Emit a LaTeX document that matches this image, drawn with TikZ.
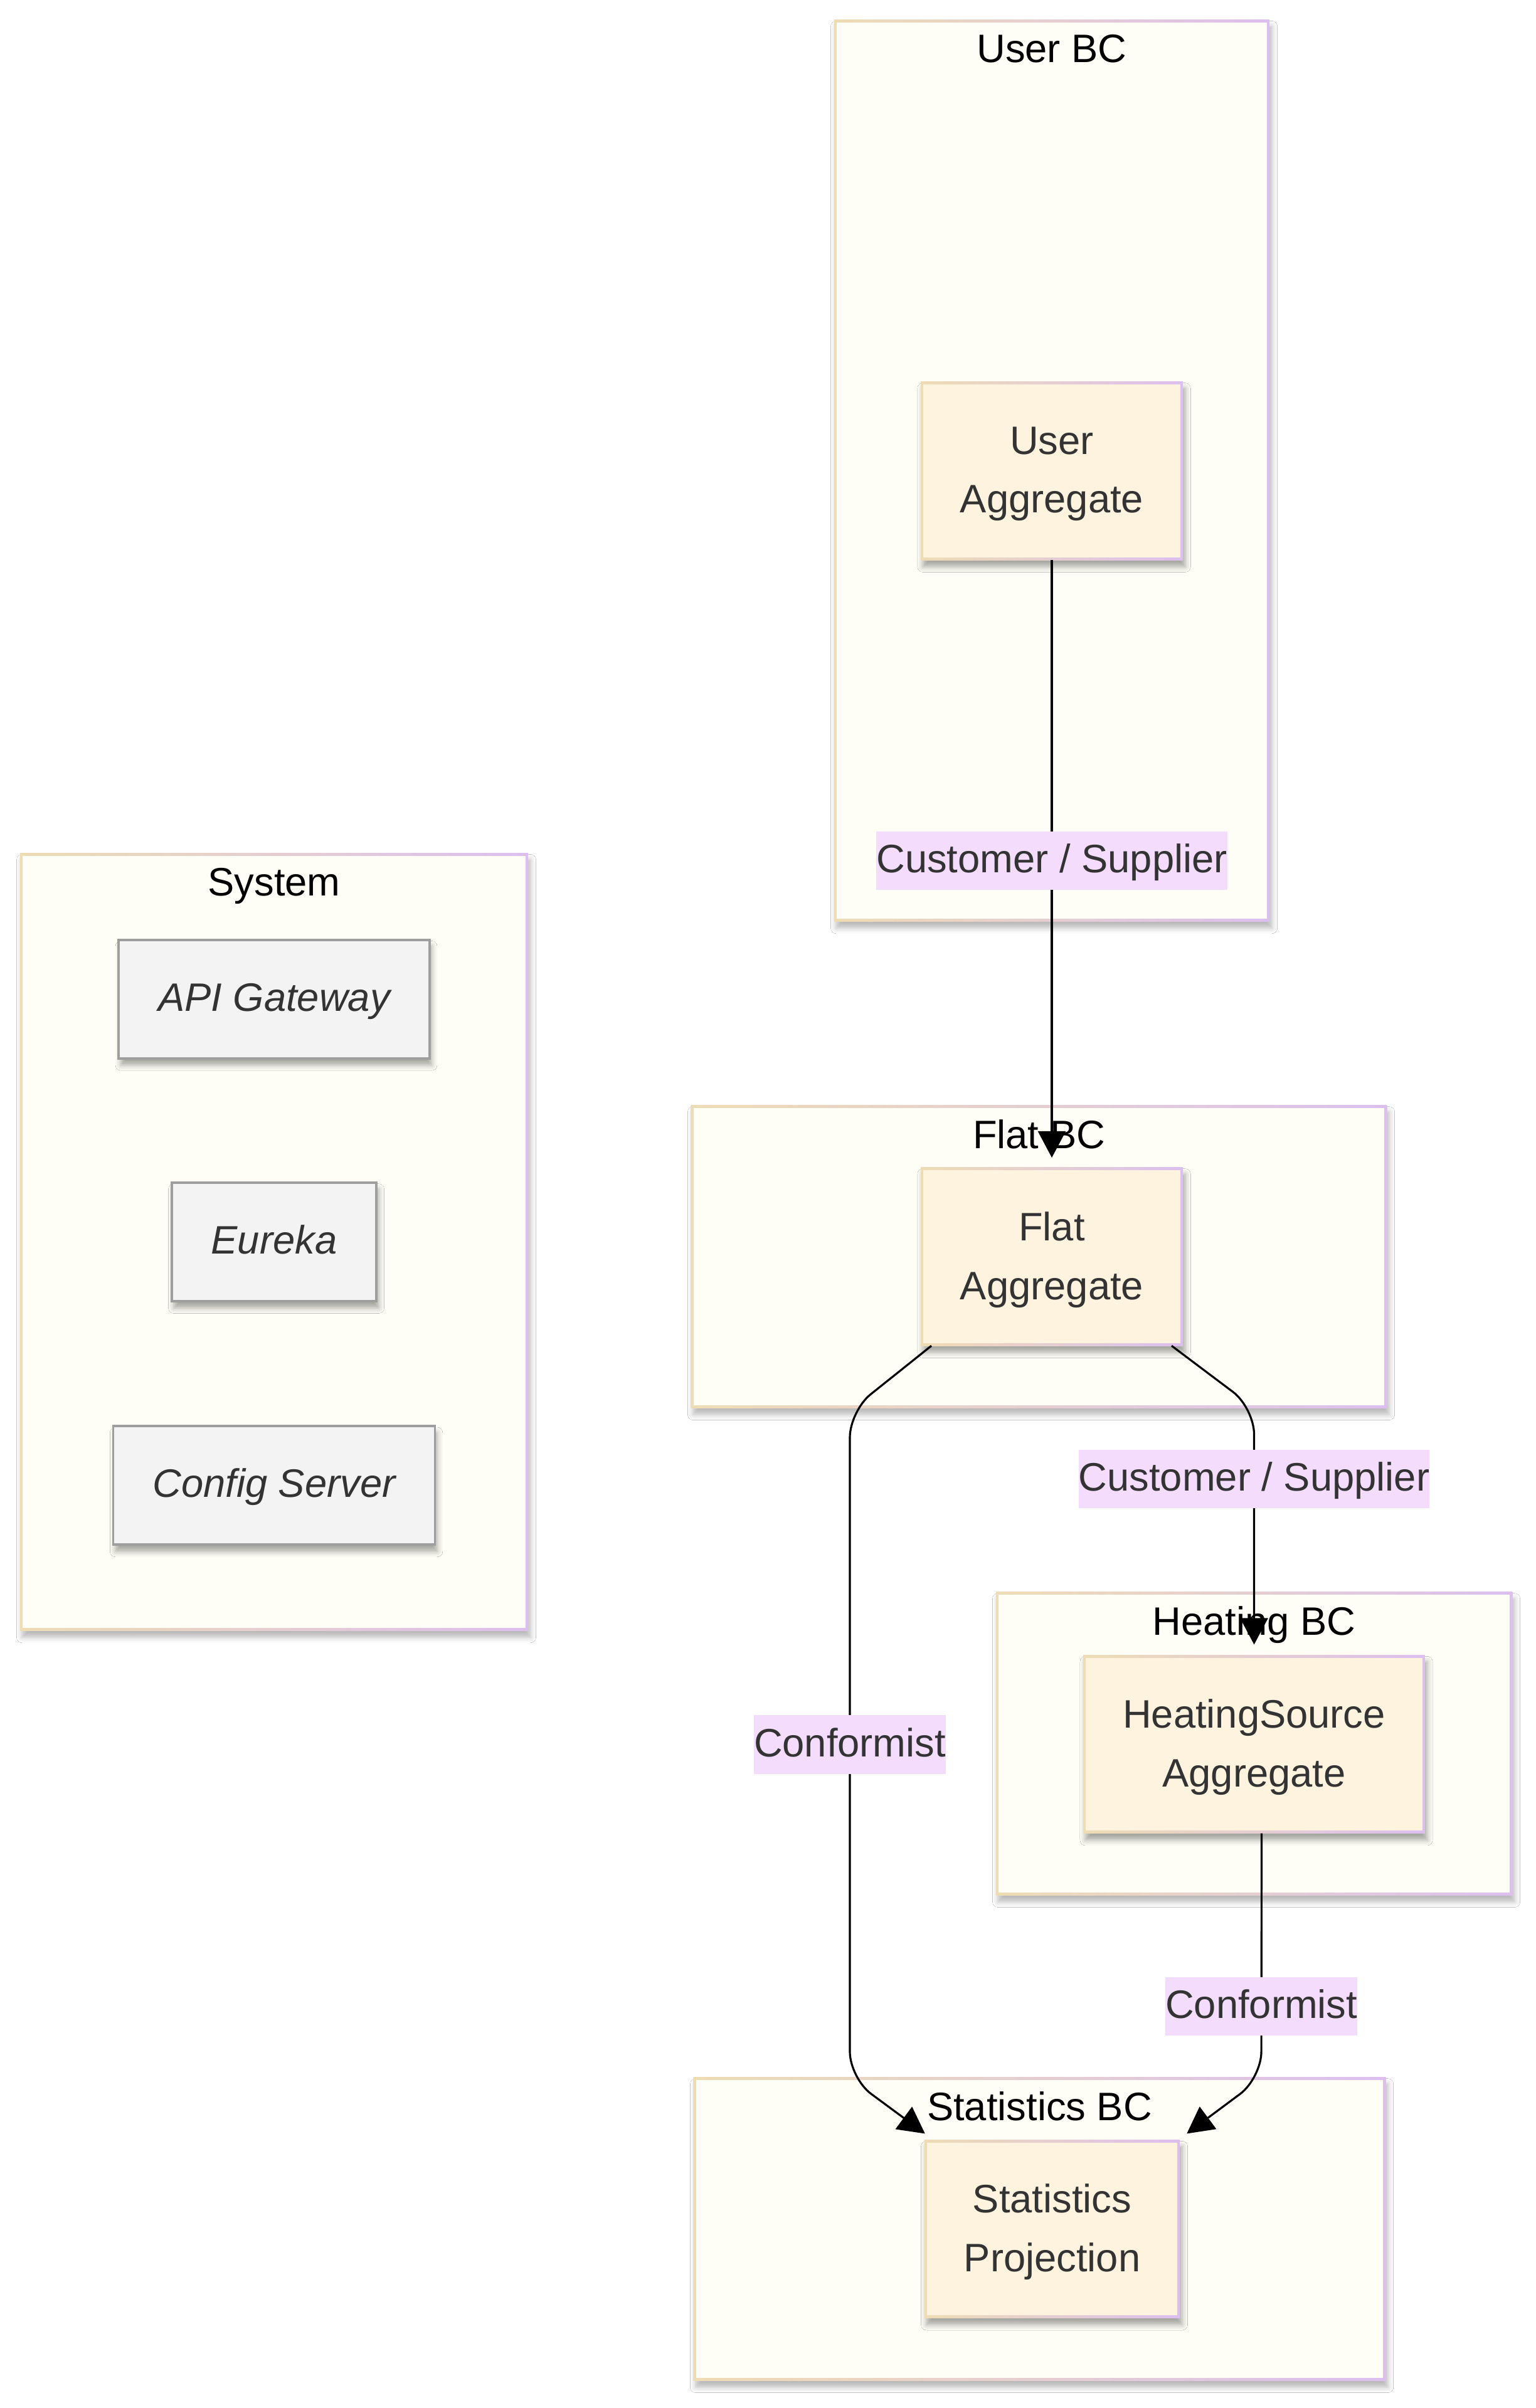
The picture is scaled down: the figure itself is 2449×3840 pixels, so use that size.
\documentclass[tikz,border=0pt]{standalone}
\usepackage{fontspec}
\setmainfont{Liberation Sans}
\usetikzlibrary{positioning, arrows.meta, calc, shadows.blur}

\definecolor{bcfill}{HTML}{FEFEF6}
\definecolor{aggfill}{HTML}{FEF3DF}
\definecolor{rimleft}{HTML}{EEDCB4}
\definecolor{rimright}{HTML}{DCBFEF}
\definecolor{svcfill}{HTML}{F3F3F3}
\definecolor{svcdraw}{HTML}{9E9E9E}
\definecolor{lblfill}{HTML}{F3DCFC}
\definecolor{txtgray}{HTML}{333333}

\begin{document}
\begin{tikzpicture}[
    x=0.01cm, y=-0.01cm,
    font=\fontsize{18pt}{26.7pt}\selectfont,
    bc/.style 2 args={
        rectangle,
        minimum width=#1,
        minimum height=#2,
        inner sep=0pt,
        outer sep=0pt,
        left color=rimleft,
        right color=rimright,
        path picture={\fill[bcfill] ([shift={(1.2pt,-1.2pt)}]path picture bounding box.north west) rectangle ([shift={(-1.2pt,1.2pt)}]path picture bounding box.south east);},
        blur shadow={shadow xshift=1pt, shadow yshift=-3pt, shadow blur radius=2.5pt, shadow opacity=28}
    },
    bctitle/.style={
        text=black,
        inner sep=0pt,
        text height=12.9pt,
        text depth=2pt
    },
    agg/.style={
        rectangle,
        align=center,
        text=txtgray,
        text depth=1pt,
        minimum height=80.8pt,
        inner xsep=17.9pt,
        outer sep=0pt,
        left color=rimleft,
        right color=rimright,
        path picture={\fill[aggfill] ([shift={(1.2pt,-1.2pt)}]path picture bounding box.north west) rectangle ([shift={(-1.2pt,1.2pt)}]path picture bounding box.south east);},
        blur shadow={shadow xshift=1pt, shadow yshift=-3pt, shadow blur radius=2.5pt, shadow opacity=35}
    },
    svc/.style={
        rectangle,
        draw=svcdraw,
        line width=1.1pt,
        fill=svcfill,
        text=txtgray,
        font=\fontsize{18pt}{26.7pt}\selectfont\itshape,
        text height=12.9pt,
        text depth=2pt,
        minimum height=53.8pt,
        inner xsep=17.9pt,
        outer sep=0pt,
        blur shadow={shadow xshift=1pt, shadow yshift=-3pt, shadow blur radius=2.5pt, shadow opacity=35}
    },
    lbl/.style={
        sharp corners,
        fill=lblfill,
        text=txtgray,
        text height=12.9pt,
        text depth=2pt,
        inner xsep=0pt,
        inner ysep=0pt,
        minimum height=26.5pt
    },
    rel/.style={
        -{Triangle[length=12pt, width=12.5pt]},
        line width=0.9pt,
        black,
        rounded corners=12pt
    }
]

    \fill[white] (0,0) rectangle (2449,3840);
    \useasboundingbox (0,0) rectangle (2449,3840);

    % Bounded contexts
    \node[bc={6.94cm}{14.37cm}] (userbc) at (1677,750.5) {};
    \node[bc={8.10cm}{12.39cm}] (sysbc) at (437,1980.5) {};
    \node[bc={11.09cm}{4.82cm}] (flatbc) at (1656.5,2004) {};
    \node[bc={8.23cm}{4.83cm}] (heatbc) at (1999.5,2780.5) {};
    \node[bc={11.03cm}{4.83cm}] (statbc) at (1657.5,3554.5) {};

    % Titles
    \node[bctitle] (userbctitle) at ($(userbc.north)+(0,49)$) {User BC};
    \node[bctitle] (sysbctitle) at ($(sysbc.north)+(0,49)$) {System};
    \node[bctitle] (flatbctitle) at ($(flatbc.north)+(0,49)$) {Flat BC};
    \node[bctitle] (heatbctitle) at ($(heatbc.north)+(0,49)$) {Heating BC};
    \node[bctitle] (statbctitle) at ($(statbc.north)+(0,49)$) {Statistics BC};

    % Aggregates
    \node[agg] (userag) at (1677,751) {User\\Aggregate};
    \node[agg] (flatag) at (1677,2004) {Flat\\Aggregate};
    \node[agg] (heatag) at (1999.5,2781.5) {HeatingSource\\Aggregate};
    \node[agg] (statag) at (1677.5,3554.5) {Statistics\\Projection};

    % System services
    \node[svc] (eureka) at (sysbc.center) {Eureka};
    \node[svc, above=1.98cm of eureka] (apigw) {API Gateway};
    \node[svc, below=1.99cm of eureka] (config) {Config Server};

    % Context map relations
    \draw[rel, shorten >=4.5pt] (userag.south)
        -- node[lbl, pos=0.495] (cs1) {Customer / Supplier} (flatag.north);
    \draw[rel, shorten >=4.8pt] ($(flatag.south east)+(-18,0)$) -- (1999.5,2245)
        -- node[lbl, pos=0.2875] (cs2) {Customer / Supplier} (heatag.north);
    \draw[rel] ($(flatag.south west)+(17,0)$) -- (1355,2250)
        -- node[lbl, pos=0.5] (conf1) {Conformist} (1355,3314)
        -- ($(statag.north west)+(1,-10)$);
    \draw[rel] ($(heatag.south)+(12,0)$)
        -- node[lbl, pos=0.707] (conf2) {Conformist} (2011,3314)
        -- ($(statag.north east)+(11,-10)$);

\end{tikzpicture}
\end{document}
